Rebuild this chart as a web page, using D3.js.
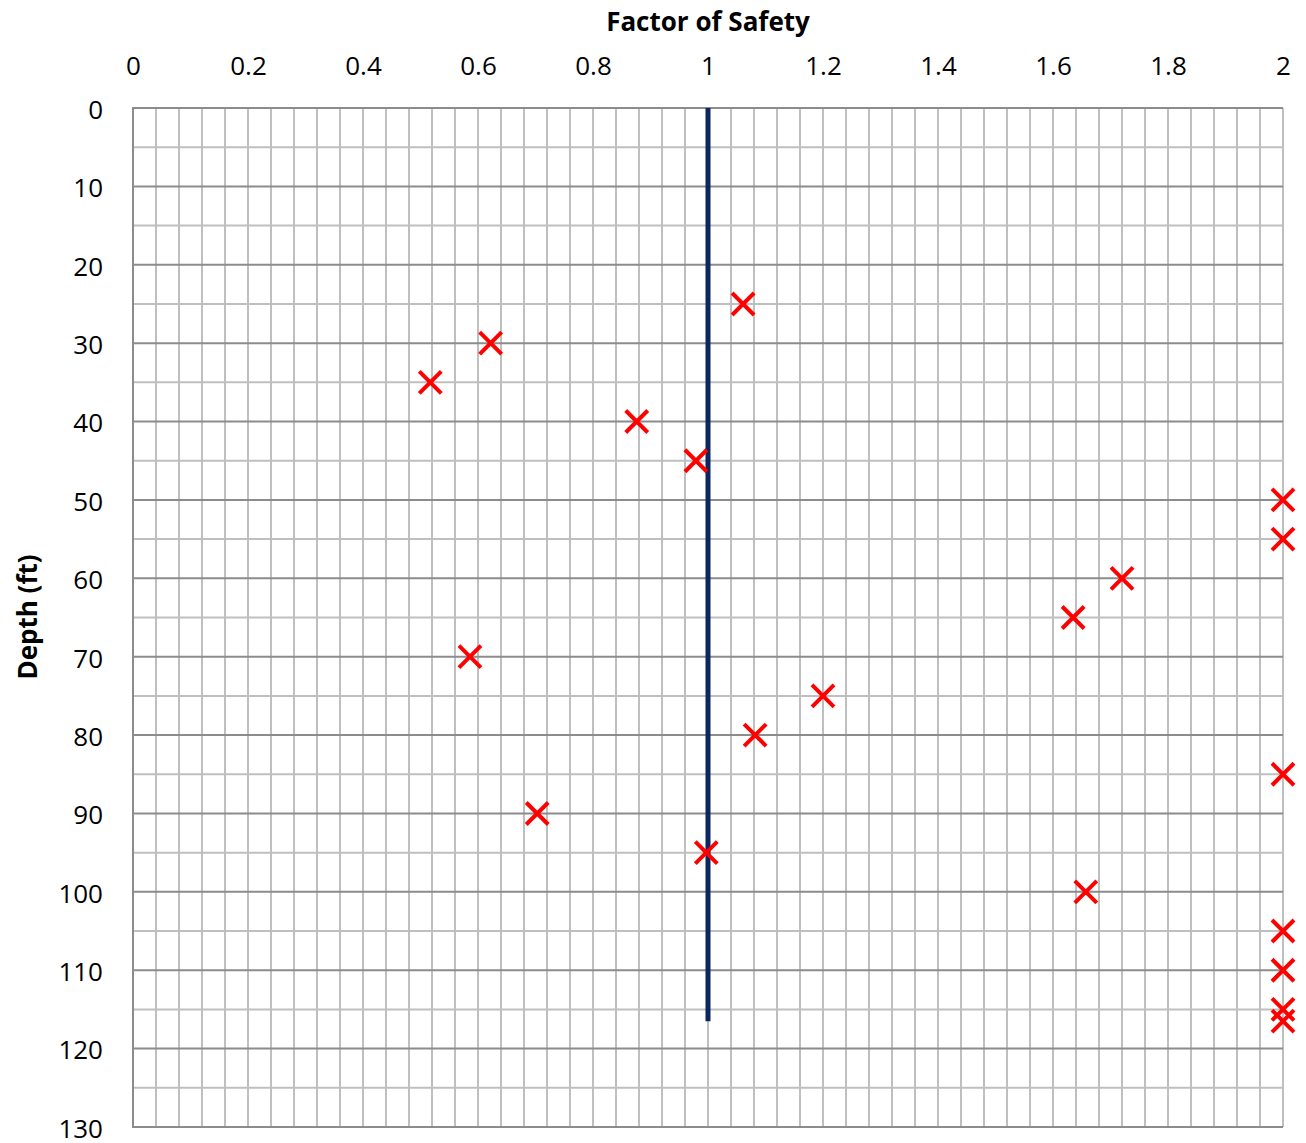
<!DOCTYPE html>
<html><head><meta charset="utf-8">
<script src="https://cdn.jsdelivr.net/npm/d3@7"></script>
<style>body{margin:0;background:#fff}svg{display:block}text{font-family:"Open Sans","Liberation Sans",sans-serif;fill:#000}</style>
</head><body>
<script>
const depths = [25,30,35,40,45,50,55,60,65,70,75,80,85,90,95,100,105,110,115,116.5];
const fos    = [1.061,0.622,0.517,0.876,0.979,2,2,1.72,1.635,0.586,1.2,1.082,2,0.703,0.997,1.657,2,2,2,2];
const refLine = [{x:1,y:0},{x:1,y:116.5}];
const xTicks = [0,0.2,0.4,0.6,0.8,1,1.2,1.4,1.6,1.8,2];
const yTicks = [0,10,20,30,40,50,60,70,80,90,100,110,120,130];

const W=1306,H=1143;
const svg=d3.select("body").append("svg").attr("width",W).attr("height",H);
const x=d3.scaleLinear().domain([0,2]).range([133,1283]);
const y=d3.scaleLinear().domain([0,130]).range([108,1127]);

const g=svg.append("g");
const vlines=d3.range(0,51).map(i=>i*0.04);
g.selectAll(".v").data(vlines).enter().append("line")
 .attr("x1",d=>x(d)).attr("x2",d=>x(d)).attr("y1",y(0)).attr("y2",y(130))
 .attr("stroke","#bfbfbf").attr("stroke-width",2);
const hlines=d3.range(0,27).map(i=>i*5);
g.selectAll(".h").data(hlines.filter(d=>d%10!==0)).enter().append("line")
 .attr("x1",x(0)).attr("x2",x(2)).attr("y1",d=>y(d)).attr("y2",d=>y(d))
 .attr("stroke","#bfbfbf").attr("stroke-width",2);
g.selectAll(".hm").data(hlines.filter(d=>d%10===0)).enter().append("line")
 .attr("x1",x(0)).attr("x2",x(2)).attr("y1",d=>y(d)).attr("y2",d=>y(d))
 .attr("stroke","#8c8c8c").attr("stroke-width",2);
g.append("line").attr("x1",x(0)).attr("x2",x(0)).attr("y1",y(0)-1).attr("y2",y(130)+1).attr("stroke","#8c8c8c").attr("stroke-width",2);

const FF="'Open Sans','Liberation Sans',sans-serif";
const xAxis=d3.axisTop(x).tickValues(xTicks).tickSize(0).tickPadding(0).tickFormat(d=>d3.format("")(d));
const xa=svg.append("g").attr("transform","translate(0,75)").call(xAxis);
xa.select(".domain").remove();
xa.selectAll("text").attr("font-size",26).attr("font-family",FF).attr("fill","#000");
const yAxis=d3.axisLeft(y).tickValues(yTicks).tickSize(0).tickPadding(0);
const ya=svg.append("g").attr("transform","translate(103,2)").call(yAxis);
ya.select(".domain").remove();
ya.selectAll("text").attr("font-size",26).attr("font-family",FF).attr("fill","#000");

svg.append("text").attr("x",708).attr("y",31).attr("text-anchor","middle").attr("font-size",26).attr("font-weight","bold").text("Factor of Safety");
svg.append("text").attr("transform","translate(37,617) rotate(-90)").attr("text-anchor","middle").attr("font-size",26).attr("font-weight","bold").text("Depth (ft)");

svg.append("path").datum(refLine)
 .attr("d",d3.line().x(d=>x(d.x)).y(d=>y(d.y)))
 .attr("stroke","#0b2660").attr("stroke-width",5).attr("fill","none");

const s=11;
const pts=depths.map((d,i)=>({d,f:fos[i]}));
const mk=svg.append("g").selectAll("g").data(pts).enter().append("g")
 .attr("transform",p=>`translate(${x(p.f)},${y(p.d)})`);
mk.append("path").attr("d",`M${-s},${-s}L${s},${s}M${-s},${s}L${s},${-s}`)
 .attr("stroke","#ff0000").attr("stroke-width",4).attr("fill","none");
</script>
</body></html>
